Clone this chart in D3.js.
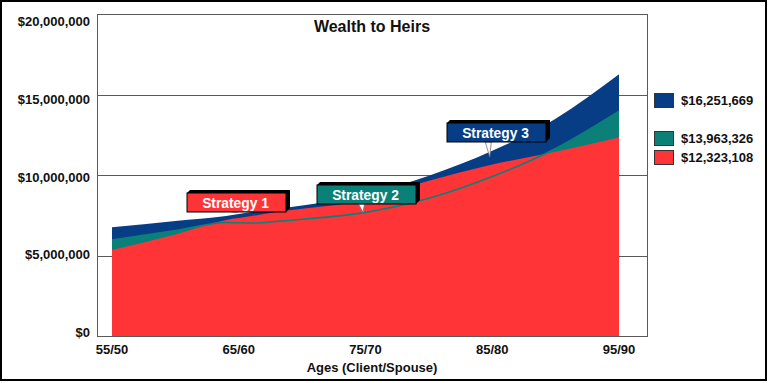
<!DOCTYPE html>
<html>
<head>
<meta charset="utf-8">
<script src="https://cdn.jsdelivr.net/npm/d3@7"></script>
<style>
  html, body { margin: 0; padding: 0; background: #fff; }
  svg { display: block; }
  text { font-family: "Liberation Sans", Arial, Helvetica, sans-serif; font-weight: bold; }
</style>
</head>
<body>
<svg id="chart" width="769" height="383"></svg>
<script>
// ---- data ----
const clientAges = [55, 60, 64, 66, 68, 70, 75, 80, 85, 90, 95];
const strategy1 = [5340000, 6300000, 7200000, 7450000, 7700000, 7900000, 8450000, 9650000, 10650000, 11450000, 12323108];
const strategy2 = [5960000, 6550000, 7050000, 7020000, 7120000, 7250000, 7680000, 8550000, 9900000, 11650000, 13963326];
const strategy3 = [6750000, 7150000, 7450000, 7700000, 7900000, 8100000, 8800000, 9950000, 11500000, 13500000, 16251669];
const xTickValues = [55, 65, 75, 85, 95];
const xTickLabels = ["55/50", "65/60", "75/70", "85/80", "95/90"];
const yTickValues = [0, 5000000, 10000000, 15000000, 20000000];
const seriesNames = ["Strategy 1", "Strategy 2", "Strategy 3"];
const legendLabels = ["$16,251,669", "$13,963,326", "$12,323,108"];
const calloutAges = [65, 75, 85];

const colors = { s1: "#FF3437", s2: "#0B8079", s3: "#073D85" };

const svg = d3.select("#chart");
const plot = { left: 97, right: 647, top: 14, bottom: 336 };

const x = d3.scaleLinear().domain([55, 95]).range([112, 619]);
const y = d3.scaleLinear().domain([0, 20000000]).range([plot.bottom, plot.top]);
const yLabel = d3.scaleLinear().domain([0, 20000000]).range([332.5, 21.5]);

// outer border
svg.append("rect").attr("x", 1).attr("y", 1).attr("width", 765).attr("height", 379)
  .attr("fill", "none").attr("stroke", "#000").attr("stroke-width", 2);

// gridlines
svg.append("g").selectAll("line").data(yTickValues).join("line")
  .attr("x1", plot.left).attr("x2", plot.right)
  .attr("y1", d => Math.round(y(d)) + 0.5).attr("y2", d => Math.round(y(d)) + 0.5)
  .attr("stroke", "#5a5a5a").attr("stroke-width", 1);

// areas
const mk = vals => clientAges.map((a, i) => ({ a, v: vals[i] }));
const area = d3.area().x(d => x(d.a)).y0(y(0)).y1(d => y(d.v)).curve(d3.curveMonotoneX);
const line = d3.line().x(d => x(d.a)).y(d => y(d.v)).curve(d3.curveMonotoneX);

svg.append("path").datum(mk(strategy3)).attr("d", area).attr("fill", colors.s3);
svg.append("path").datum(mk(strategy2)).attr("d", area).attr("fill", colors.s2);
svg.append("path").datum(mk(strategy1)).attr("d", area).attr("fill", colors.s1);
svg.append("path").datum(mk(strategy2)).attr("d", line).attr("fill", "none")
  .attr("stroke", colors.s2).attr("stroke-width", 1.6);

// frame
svg.append("rect").attr("x", plot.left + 0.5).attr("y", plot.top + 0.5)
  .attr("width", plot.right - plot.left).attr("height", plot.bottom - plot.top)
  .attr("fill", "none").attr("stroke", "#5a5a5a").attr("stroke-width", 1);

// y labels
svg.append("g").selectAll("text").data(yTickValues).join("text")
  .attr("x", 90).attr("y", d => yLabel(d) + 4.6)
  .attr("text-anchor", "end").attr("font-size", 13).attr("fill", "#111")
  .text(d => d3.format("$,")(d));

// x labels
svg.append("g").selectAll("text").data(xTickValues).join("text")
  .attr("x", d => x(d)).attr("y", 354)
  .attr("text-anchor", "middle").attr("font-size", 13).attr("fill", "#111")
  .text((d, i) => xTickLabels[i]);

svg.append("text").attr("x", 372).attr("y", 372).attr("text-anchor", "middle")
  .attr("font-size", 13).attr("fill", "#111").text("Ages (Client/Spouse)");

svg.append("text").attr("x", 372).attr("y", 32).attr("text-anchor", "middle")
  .attr("font-size", 16).attr("fill", "#111").text("Wealth to Heirs");

// callouts
const calloutFill = [colors.s1, colors.s2, colors.s3];
const calloutBox = [
  { bx: 187, by: 193 },
  { bx: 317, by: 185 },
  { bx: 447, by: 123 }
];
calloutAges.forEach((age, i) => {
  const g = svg.append("g");
  const b = calloutBox[i];
  const w = 99, h = 19;
  const px = x(age) - 4;
  const idx = clientAges.indexOf(age);
  const target = i === 0 ? y(strategy2[idx]) - 3 : (i === 1 ? y(strategy2[idx]) : y(strategy3[idx]) + 6);
  // pointer
  g.append("path")
    .attr("d", `M${px - 3},${b.by + h} L${px + 3},${b.by + h} L${px + 1.5},${target} Z`)
    .attr("fill", "#fff").attr("stroke", "#777").attr("stroke-width", 0.8);
  // shadow
  g.append("path")
    .attr("d", `M${b.bx},${b.by} L${b.bx + 3},${b.by - 3} L${b.bx + w + 4},${b.by - 3} L${b.bx + w + 4},${b.by + h - 4} L${b.bx + w},${b.by + h} L${b.bx + w},${b.by} Z`)
    .attr("fill", "#000");
  g.append("rect").attr("x", b.bx).attr("y", b.by).attr("width", w).attr("height", h)
    .attr("fill", calloutFill[i]).attr("stroke", "#000").attr("stroke-width", 1);
  g.append("text").attr("x", b.bx + w / 2 - 1).attr("y", b.by + 14.5)
    .attr("text-anchor", "middle").attr("font-size", 13.8).attr("fill", "#fff")
    .text(seriesNames[i]);
});

// legend
const legendColors = [colors.s3, colors.s2, colors.s1];
const legendY = [93, 131, 150];
legendLabels.forEach((lab, i) => {
  svg.append("rect").attr("x", 654.5).attr("y", legendY[i] + 0.5).attr("width", 19).attr("height", 14)
    .attr("fill", legendColors[i]).attr("stroke", "#333").attr("stroke-width", 1);
  svg.append("text").attr("x", 681).attr("y", legendY[i] + 11.5)
    .attr("font-size", 13).attr("fill", "#111").text(lab);
});
</script>
</body>
</html>
